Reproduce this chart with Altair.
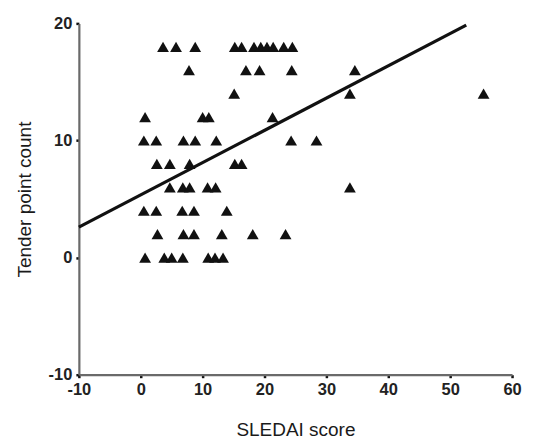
import altair as alt
import pandas as pd

# SLEDAI score (x) and tender point count (y) for each patient
sledai = [
    3.6, 5.7, 8.8, 15.2, 16.3, 18.3, 19.4, 20.4, 21.4, 23.1, 24.5,   # 18
    7.8, 17.0, 19.2, 24.4, 34.6,                                     # 16
    15.1, 33.8, 55.4,                                                # 14
    0.7, 10.0, 11.0, 21.3,                                           # 12
    0.5, 2.5, 6.9, 8.8, 12.2, 24.3, 28.4,                            # 10
    2.6, 4.7, 7.9, 15.2, 16.3,                                       # 8
    4.7, 6.8, 7.9, 10.8, 12.1, 33.8,                                 # 6
    0.5, 2.5, 6.7, 8.6, 13.9,                                        # 4
    2.7, 6.9, 8.6, 13.1, 18.1, 23.4,                                 # 2
    0.7, 3.8, 5.0, 6.8, 10.9, 12.0, 13.3,                            # 0
]
tender = (
    [18] * 11 + [16] * 5 + [14] * 3 + [12] * 4 + [10] * 7
    + [8] * 5 + [6] * 6 + [4] * 5 + [2] * 6 + [0] * 7
)

# regression line end points
fit_x = [-10, 52.6]
fit_y = [2.6, 19.85]

x_ticks = [-10, 0, 10, 20, 30, 40, 50, 60]
y_ticks = [-10, 0, 10, 20]

pts = pd.DataFrame({"x": sledai, "y": tender})
fit = pd.DataFrame({"x": fit_x, "y": fit_y})

FONT = "Liberation Sans"
xs = alt.Scale(domain=[-10, 60], nice=False, zero=False)
ys = alt.Scale(domain=[-10, 20], nice=False, zero=False)

common = dict(
    grid=False, domainColor="#6a6a6a", domainWidth=2.2,
    tickColor="#111", tickSize=3, tickWidth=2.5,
    labelFont=FONT, labelFontSize=16.5, labelFontWeight="bold", labelColor="#222",
    labelFlush=False, labelOverlap=False, labelExpr="datum.value + ''",
    titleFont=FONT, titleFontSize=19, titleFontWeight="normal", titleColor="#1a1a1a",
)
xaxis = alt.Axis(title="SLEDAI score", values=x_ticks, labelPadding=4, titlePadding=22, **common)
yaxis = alt.Axis(title="Tender point count", values=y_ticks, labelPadding=4, titlePadding=14, **common)

points = alt.Chart(pts).mark_point(
    shape="triangle-up", filled=True, size=140, color="#111", opacity=1
).encode(
    x=alt.X("x:Q", scale=xs, axis=xaxis),
    y=alt.Y("y:Q", scale=ys, axis=yaxis),
)

line = alt.Chart(fit).mark_line(color="#111", strokeWidth=3.2).encode(
    x=alt.X("x:Q", scale=xs),
    y=alt.Y("y:Q", scale=ys),
)

chart = alt.layer(line, points).properties(
    width=434, height=352,
    autosize=alt.AutoSizeParams(type="none"),
    padding={"left": 71, "top": 15, "right": 20, "bottom": 66},
).configure_view(stroke=None)

chart.save("out.html", embed_options={"renderer": "svg", "actions": False})
